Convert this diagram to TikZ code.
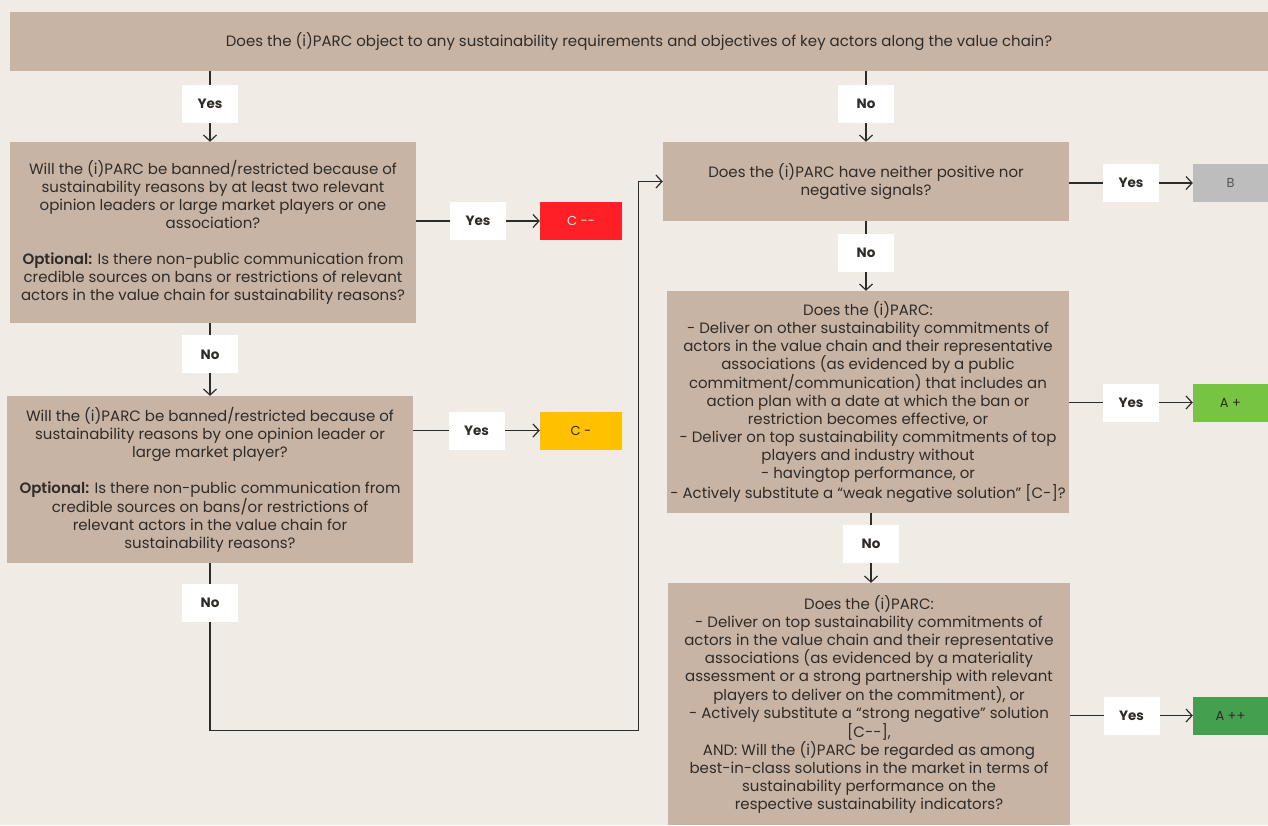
\documentclass[tikz,border=0pt]{standalone}
\usepackage{fontspec}
\setmainfont{Poppins}
\newfontfamily\semib{Poppins}[UprightFont=* SemiBold]
\usetikzlibrary{arrows.meta,calc}
\definecolor{bg}{HTML}{F0ECE5}
\definecolor{boxfill}{HTML}{C8B4A4}
\definecolor{ink}{HTML}{2F2B28}
\definecolor{wire}{HTML}{2E2C2A}
\definecolor{cred}{HTML}{FF1F26}
\definecolor{camber}{HTML}{FFC000}
\definecolor{bgray}{HTML}{BDBDBD}
\definecolor{agreen}{HTML}{76C442}
\definecolor{adgreen}{HTML}{44A04F}
\begin{document}
\begin{tikzpicture}[x=1pt,y=-1pt,
  qbox/.style={fill=boxfill, text=ink, align=center, inner sep=0pt,
    font=\fontsize{15}{18}\selectfont},
  lbl/.style={fill=white, text=ink, inner sep=0pt,
    minimum width=56pt, minimum height=38pt,
    font=\fontsize{13.5}{16}\selectfont\bfseries},
  res/.style={inner sep=0pt, minimum height=38pt,
    font=\fontsize{13}{16}\selectfont},
  arr/.style={draw=wire, line width=1.2pt,
    -{Straight Barb[length=6pt,width=13pt]}}
]
% canvas
\fill[bg] (0,0) rectangle (1268,825);
\useasboundingbox (0,0) rectangle (1268,825);

% question boxes
\node[qbox, minimum width=1258pt, minimum height=59pt] (top) at (639,41.5)
  {Does the (i)PARC object to any sustainability requirements and objectives of key actors along the value chain?};

\node[qbox, minimum width=406pt, minimum height=181pt] (b1) at (213,232.5)
  {Will the (i)PARC be banned/restricted because of\\
   sustainability reasons by at least two relevant\\
   opinion leaders or large market players or one\\
   association?\\[18pt]
   {\semib Optional:} Is there non-public communication from\\
   credible sources on bans or restrictions of relevant\\
   actors in the value chain for sustainability reasons?};

\node[qbox, minimum width=406pt, minimum height=167pt] (b2) at (210,479.5)
  {Will the (i)PARC be banned/restricted because of\\
   sustainability reasons by one opinion leader or\\
   large market player?\\[18pt]
   {\semib Optional:} Is there non-public communication from\\
   credible sources on bans/or restrictions of\\
   relevant actors in the value chain for\\
   sustainability reasons?};

\node[qbox, minimum width=406pt, minimum height=79pt] (b3) at (866,181.5)
  {Does the (i)PARC have neither positive nor\\
   negative signals?};

\node[qbox, minimum width=402pt, minimum height=222pt] (b4) at (868,402)
  {Does the (i)PARC:\\
   - Deliver on other sustainability commitments of\\
   actors in the value chain and their representative\\
   associations (as evidenced by a public\\
   commitment/communication) that includes an\\
   action plan with a date at which the ban or\\
   restriction becomes effective, or\\
   - Deliver on top sustainability commitments of top\\
   players and industry without\\
   - havingtop performance, or\\
   - Actively substitute a “weak negative solution” [C-]?};

\node[qbox, minimum width=402pt, minimum height=242pt] (b5) at (869,704)
  {Does the (i)PARC:\\
   - Deliver on top sustainability commitments of\\
   actors in the value chain and their representative\\
   associations (as evidenced by a materiality\\
   assessment or a strong partnership with relevant\\
   players to deliver on the commitment), or\\
   - Actively substitute a “strong negative” solution\\
   {}[C-{}-],\\
   AND: Will the (i)PARC be regarded as among\\
   best-in-class solutions in the market in terms of\\
   sustainability performance on the\\
   respective sustainability indicators?};

% rating boxes
\node[res, fill=cred, text=white!85!cred, minimum width=82pt] (cmm) at (581,221) {C -{}-};
\node[res, fill=camber, text=ink, minimum width=82pt] (cm) at (581,430.5) {C -};
\node[res, fill=bgray, text=ink!80, minimum width=75pt] (bb) at (1230.5,183) {B};
\node[res, fill=agreen, text=ink, minimum width=75pt] (ap) at (1230.5,402.5) {A +};
\node[res, fill=adgreen, text=ink, minimum width=75pt] (app) at (1230.5,715.5) {A ++};

% connectors
\draw[arr] (top.south -| b2.north) -- node[lbl,pos=.46]{Yes} (b2.north |- b1.north);
\draw[arr] (top.south -| b3.north) -- node[lbl,pos=.46]{No} (b3.north);
\draw[arr] (b1.east |- cmm.west) -- node[lbl]{Yes} (cmm.west);
\draw[arr] (b2.north |- b1.south) -- node[lbl,pos=.43]{No} (b2.north);
\draw[arr] (b2.east |- cm.west) -- node[lbl]{Yes} (cm.west);
\draw[arr] (b2.south) -- node[lbl,pos=.24]{No} ++(0,167)
  -| ($(b3.west)+(-24,0)$) -- (b3.west);
\draw[arr] (b3.east |- bb.west) -- node[lbl]{Yes} (bb.west);
\draw[arr] (b3.south) -- node[lbl,pos=.45]{No} (b3.south |- b4.north);
\draw[arr] (b4.east |- ap.west) -- node[lbl]{Yes} (ap.west);
\coordinate (n4) at ($(b4.south)+(3,0)$);
\draw[arr] (n4) -- node[lbl,pos=.44]{No} (n4 |- b5.north);
\draw[arr] (b5.east |- app.west) -- node[lbl]{Yes} (app.west);
\end{tikzpicture}
\end{document}
